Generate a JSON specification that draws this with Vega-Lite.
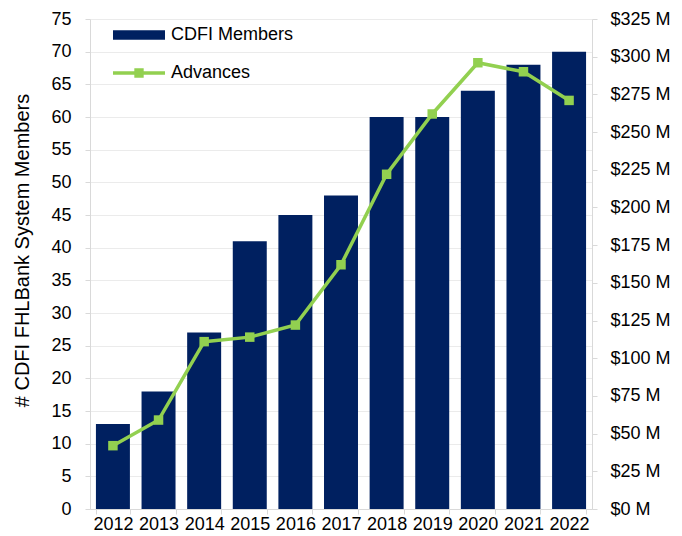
{
  "$schema": "https://vega.github.io/schema/vega-lite/v6.json",
  "width": 502,
  "height": 490,
  "autosize": {"type": "none"},
  "padding": {"left": 90, "top": 19, "right": 90, "bottom": 27},
  "config": {
    "font": "Liberation Sans",
    "view": {"stroke": null},
    "axis": {
      "labelFontSize": 18,
      "labelColor": "#000000",
      "labelFont": "Liberation Sans",
      "domainColor": "#D9D9D9",
      "tickColor": "#D9D9D9",
      "gridColor": "#EBEBEB",
      "titleColor": "#000000"
    },
    "legend": {"labelFontSize": 18, "labelColor": "#000000", "labelFont": "Liberation Sans", "padding": 0}
  },
  "data": {
    "values": [
      {"year": "2012", "members": 13, "advances": 42},
      {"year": "2013", "members": 18, "advances": 59},
      {"year": "2014", "members": 27, "advances": 111},
      {"year": "2015", "members": 41, "advances": 114},
      {"year": "2016", "members": 45, "advances": 122},
      {"year": "2017", "members": 48, "advances": 162},
      {"year": "2018", "members": 60, "advances": 222},
      {"year": "2019", "members": 60, "advances": 262},
      {"year": "2020", "members": 64, "advances": 296},
      {"year": "2021", "members": 68, "advances": 290},
      {"year": "2022", "members": 70, "advances": 271}
    ]
  },
  "encoding": {
    "x": {
      "field": "year",
      "type": "ordinal",
      "scale": {"paddingInner": 0.255, "paddingOuter": 0.13},
      "axis": {
        "title": null,
        "labelAngle": 0,
        "tickBand": "extent",
        "tickSize": 5,
        "labelPadding": 1,
        "grid": false
      }
    }
  },
  "layer": [
    {
      "mark": {"type": "bar"},
      "encoding": {
        "y": {
          "field": "members",
          "type": "quantitative",
          "scale": {"domain": [0, 75], "nice": false},
          "axis": {
            "values": [0, 5, 10, 15, 20, 25, 30, 35, 40, 45, 50, 55, 60, 65, 70, 75],
            "title": "# CDFI FHLBank System Members",
            "titleFontSize": 20,
            "titleFontWeight": "normal",
            "titleX": -68,
            "titleY": 231,
            "titleBaseline": "middle",
            "titleAngle": -90,
            "tickSize": 5,
            "labelPadding": 14,
            "grid": true
          }
        },
        "fill": {
          "datum": "CDFI Members",
          "type": "nominal",
          "scale": {"range": ["#002060"]},
          "legend": {
            "title": null,
            "orient": "none",
            "legendX": 23,
            "legendY": -10,
            "symbolType": "M-1,-0.18H1V0.18H-1Z",
            "symbolSize": 2704,
            "symbolStrokeWidth": 0,
            "labelOffset": 6
          }
        }
      }
    },
    {
      "mark": {"type": "line", "strokeWidth": 3.5},
      "encoding": {
        "y": {
          "field": "advances",
          "type": "quantitative",
          "scale": {"domain": [0, 325], "nice": false},
          "axis": {
            "orient": "right",
            "values": [0, 25, 50, 75, 100, 125, 150, 175, 200, 225, 250, 275, 300, 325],
            "labelExpr": "'$' + datum.value + ' M'",
            "title": null,
            "tickSize": 5,
            "labelPadding": 13,
            "grid": false
          }
        },
        "stroke": {
          "datum": "Advances",
          "type": "nominal",
          "scale": {"range": ["#92D050"]},
          "legend": {
            "title": null,
            "orient": "none",
            "legendX": 23,
            "legendY": 28,
            "symbolType": "M-1,-0.065H1V0.065H-1Z M-0.18,-0.18H0.18V0.18H-0.18Z",
            "symbolSize": 2704,
            "symbolStrokeWidth": 0,
            "symbolFillColor": "#92D050",
            "labelOffset": 6,
            "encode": {
              "symbols": {"update": {"fill": {"value": "#92D050"}, "strokeWidth": {"value": 0}}}
            }
          }
        }
      }
    },
    {
      "mark": {"type": "point", "shape": "square", "filled": true, "size": 90, "color": "#92D050", "opacity": 1},
      "encoding": {
        "y": {"field": "advances", "type": "quantitative", "scale": {"domain": [0, 325], "nice": false}, "axis": null}
      }
    }
  ],
  "resolve": {"scale": {"y": "independent"}}
}
